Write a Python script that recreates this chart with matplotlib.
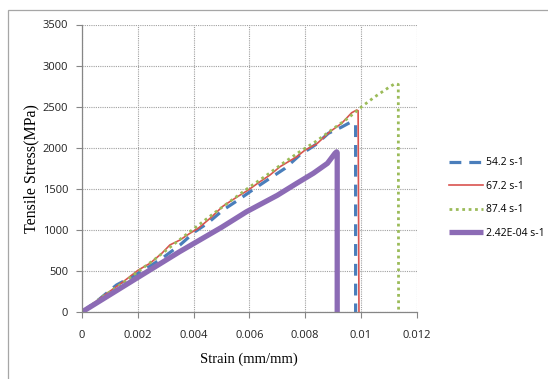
import matplotlib.pyplot as plt
from matplotlib.patches import Rectangle

# Stress-strain curves at different strain rates
strain_542 = [0, 0.00060, 0.00124, 0.00180, 0.00232, 0.00290, 0.00351, 0.00405, 0.00450,
              0.00506, 0.00560, 0.00620, 0.00674, 0.00728, 0.00781, 0.00841, 0.00883,
              0.00930, 0.00960, 0.00981, 0.00981]
stress_542 = [0, 150, 329, 430, 532, 660, 815, 978, 1080, 1242, 1363, 1506, 1628, 1749,
              1911, 2045, 2175, 2250, 2305, 2295, 0]

strain_672 = [0, 0.00070, 0.00148, 0.00202, 0.00244, 0.00286, 0.00315, 0.00351, 0.00387,
              0.00417, 0.00459, 0.00506, 0.00554, 0.00596, 0.00638, 0.00674, 0.00710,
              0.00740, 0.00770, 0.00800, 0.00841, 0.00889, 0.00931, 0.00967, 0.00985,
              0.00990, 0.00993]
stress_672 = [0, 180, 369, 511, 593, 714, 816, 876, 958, 1019, 1140, 1290, 1396, 1485,
              1586, 1668, 1769, 1830, 1891, 1972, 2045, 2195, 2297, 2426, 2459, 2450, 0]

strain_874 = [0, 0.00080, 0.00150, 0.00200, 0.00260, 0.00320, 0.00380, 0.00430, 0.00480,
              0.00540, 0.00600, 0.00660, 0.00720, 0.00780, 0.00840, 0.00900, 0.00950,
              0.00988, 0.01003, 0.01050, 0.01104, 0.01122, 0.01134, 0.01135]
stress_874 = [0, 200, 360, 490, 640, 800, 960, 1090, 1220, 1370, 1520, 1660, 1810, 1950,
              2080, 2230, 2350, 2455, 2500, 2620, 2743, 2780, 2770, 0]

strain_quasi = [0, 0.001, 0.002, 0.0035, 0.005, 0.0059, 0.0070, 0.0077, 0.0083, 0.0088,
                0.00907, 0.00913, 0.00915, 0.00915]
stress_quasi = [0, 210, 420, 734, 1030, 1221, 1420, 1567, 1690, 1810, 1932, 1950, 1940, 0]

labels = ['54.2 s-1', '67.2 s-1', '87.4 s-1', '2.42E-04 s-1']
x_ticks = [0, 0.002, 0.004, 0.006, 0.008, 0.01, 0.012]
x_tick_labels = ['0', '0.002', '0.004', '0.006', '0.008', '0.01', '0.012']
y_ticks = [0, 500, 1000, 1500, 2000, 2500, 3000, 3500]

tick_font = 'Open Sans'
label_font = 'Liberation Serif'

fig = plt.figure(figsize=(5.48, 3.79), dpi=100)
fig.patches.append(Rectangle((8 / 548, -0.1), 1.2, (369 / 379) + 0.1,
                             transform=fig.transFigure, fill=False,
                             edgecolor='#a6a6a6', linewidth=0.9))

ax = fig.add_axes([82 / 548, 1 - 312 / 379, (416.7 - 82) / 548, (312 - 24.5) / 379])

ax.plot(strain_542, stress_542, color='#4a7ebb', lw=2.3, dashes=(3.7, 2.5), label=labels[0])
ax.plot(strain_672, stress_672, color='#d9534f', lw=1.2, label=labels[1])
ax.plot(strain_874, stress_874, color='#9bbb59', lw=2.0, dashes=(1, 1.3), label=labels[2])
ax.plot(strain_quasi, stress_quasi, color='#8c6bb5', lw=3.8, solid_capstyle='butt',
        label=labels[3])

ax.set_xlim(0, 0.012)
ax.set_ylim(0, 3500)
ax.set_xticks(x_ticks)
ax.set_xticklabels(x_tick_labels)
ax.set_yticks(y_ticks)
ax.grid(True, color='#a0a0a0', linestyle=(0, (1, 1)), linewidth=0.8)
ax.set_axisbelow(True)

for side in ['top', 'right']:
    ax.spines[side].set_visible(False)
for side in ['left', 'bottom']:
    ax.spines[side].set_color('#868686')
    ax.spines[side].set_linewidth(0.9)

ax.tick_params(axis='both', direction='out', length=4, width=0.8, color='#868686',
               labelsize=8, labelcolor='#222222')
ax.tick_params(axis='x', pad=9)
ax.tick_params(axis='y', pad=6)
for lbl in ax.get_xticklabels() + ax.get_yticklabels():
    lbl.set_fontfamily(tick_font)

ax.set_xlabel('Strain (mm/mm)', fontfamily=label_font, fontsize=10.5, labelpad=8)
ax.set_ylabel('Tensile Stress(MPa)', fontfamily=label_font, fontsize=11.5, labelpad=2)

leg = ax.legend(loc='upper left', bbox_to_anchor=(440 / 548, 1 - 148 / 379),
                bbox_transform=fig.transFigure, frameon=False, handlelength=3.2,
                handletextpad=0.3, labelspacing=1.2, prop={'family': tick_font, 'size': 7.5})

fig.savefig('out.png', dpi=100)
